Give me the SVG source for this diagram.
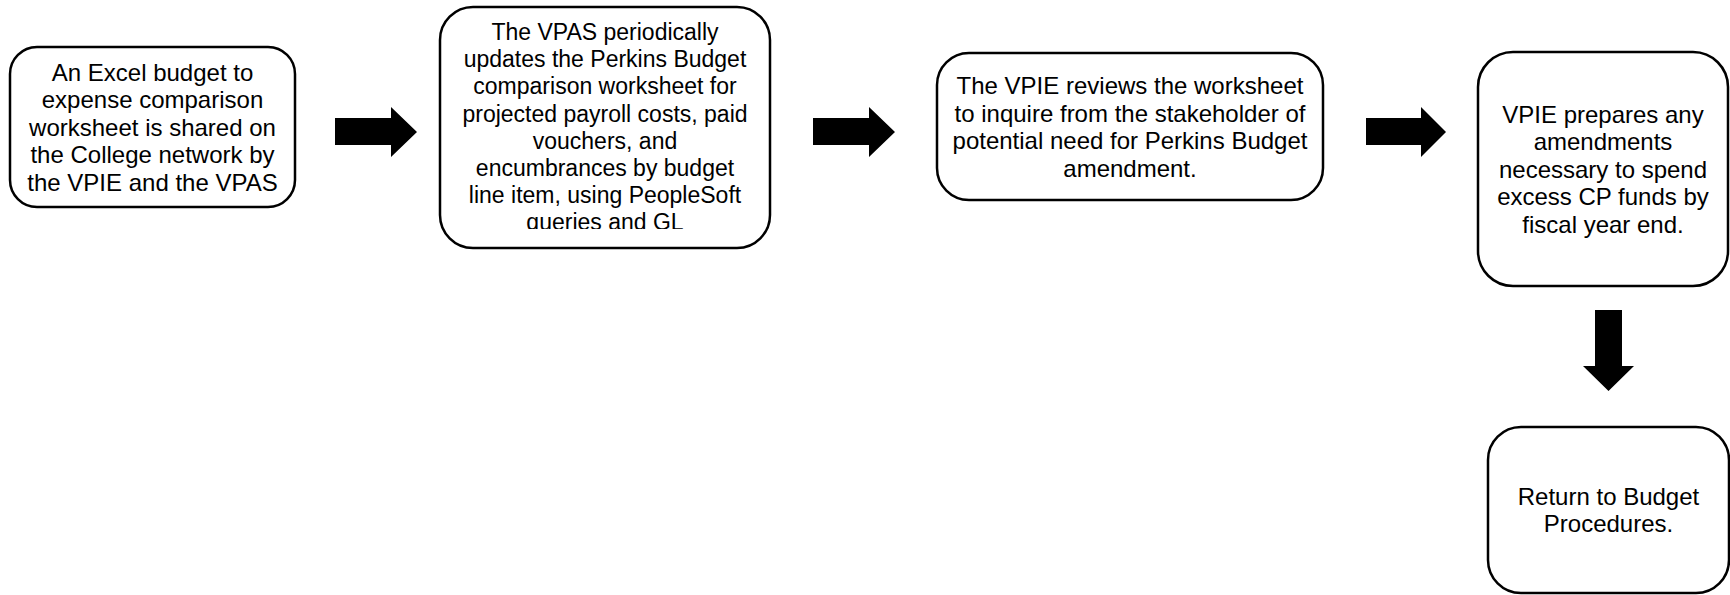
<svg xmlns="http://www.w3.org/2000/svg" width="1730" height="595" viewBox="0 0 1730 595">
<style>
.box{fill:#fff;stroke:#000;stroke-width:2.5}
.t{font-family:"Liberation Sans",Arial,sans-serif;font-size:24px;fill:#000;text-anchor:middle}
.t2{font-size:23px}
.arr{fill:#000;stroke:none}
</style>
<defs>
<clipPath id="clip2"><rect x="440" y="7" width="330" height="222"/></clipPath>
</defs>
<rect width="1730" height="595" fill="#fff"/>
<g id="connectors">
<polygon class="arr" points="335,118 391,118 391,107 417,132 391,157 391,145 335,145"/>
<polygon class="arr" points="813,118 869,118 869,107 895,132 869,157 869,145 813,145"/>
<polygon class="arr" points="1366,118 1421,118 1421,107 1446,132 1421,157 1421,145 1366,145"/>
<polygon class="arr" points="1595,310 1622,310 1622,366 1634,366 1608.5,391 1583,366 1595,366"/>
</g>
<g id="node1">
<rect class="box" x="10" y="47" width="285" height="160" rx="27" ry="27"/>
<text class="t" x="152.5" y="80.6">An Excel budget to</text>
<text class="t" x="152.5" y="108.1">expense comparison</text>
<text class="t" x="152.5" y="135.6">worksheet is shared on</text>
<text class="t" x="152.5" y="163.1">the College network by</text>
<text class="t" x="152.5" y="190.6">the VPIE and the VPAS</text>
</g>
<g id="node2">
<rect class="box" x="440" y="7" width="330" height="241" rx="33" ry="33"/>
<g clip-path="url(#clip2)">
<text class="t t2" x="605" y="40">The VPAS periodically</text>
<text class="t t2" x="605" y="67.2">updates the Perkins Budget</text>
<text class="t t2" x="605" y="94.4">comparison worksheet for</text>
<text class="t t2" x="605" y="121.6">projected payroll costs, paid</text>
<text class="t t2" x="605" y="148.8">vouchers, and</text>
<text class="t t2" x="605" y="176">encumbrances by budget</text>
<text class="t t2" x="605" y="203.2">line item, using PeopleSoft</text>
<text class="t t2" x="605" y="230.4">queries and GL</text>
</g>
</g>
<g id="node3">
<rect class="box" x="937" y="53" width="386" height="147" rx="32" ry="32"/>
<text class="t" x="1130" y="94">The VPIE reviews the worksheet</text>
<text class="t" x="1130" y="121.5">to inquire from the stakeholder of</text>
<text class="t" x="1130" y="149">potential need for Perkins Budget</text>
<text class="t" x="1130" y="176.5">amendment.</text>
</g>
<g id="node4">
<rect class="box" x="1478" y="52" width="250" height="234" rx="35" ry="35"/>
<text class="t" x="1603" y="122.6">VPIE prepares any</text>
<text class="t" x="1603" y="150.1">amendments</text>
<text class="t" x="1603" y="177.6">necessary to spend</text>
<text class="t" x="1603" y="205.1">excess CP funds by</text>
<text class="t" x="1603" y="232.6">fiscal year end.</text>
</g>
<g id="node5">
<rect class="box" x="1488" y="427" width="241" height="166" rx="33" ry="33"/>
<text class="t" x="1608.5" y="504.8">Return to Budget</text>
<text class="t" x="1608.5" y="532.3">Procedures.</text>
</g>
</svg>
